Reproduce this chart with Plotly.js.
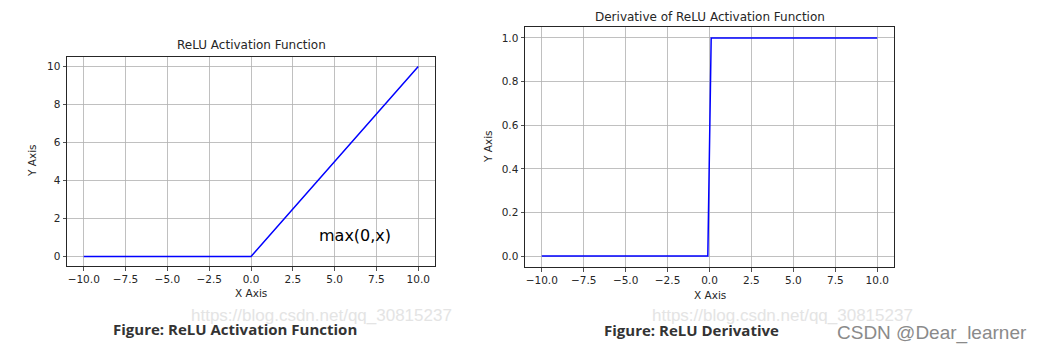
<!DOCTYPE html>
<html><head><meta charset="utf-8">
<script src="https://cdn.plot.ly/plotly-3.0.1.min.js"></script>
<style>html,body{margin:0;padding:0;background:#fff}#plot{width:1041px;height:352px}</style>
</head><body><div id="plot"></div>
<script>
// ReLU data
const reluX = [-10, 0, 10];
const reluY = [0, 0, 10];
// Derivative data
const dReluX = [-10, -0.1, 0.1, 10];
const dReluY = [0, 0, 1, 1];
// Tick labels
const xTicks = [-10, -7.5, -5, -2.5, 0, 2.5, 5, 7.5, 10];
const yTicksLeft = [0, 2, 4, 6, 8, 10];
const yTicksRight = [0, 0.2, 0.4, 0.6, 0.8, 1.0];

const W = 1041, H = 352;
const fx = p => p / W, fy = p => 1 - p / H;
const tickFont = {family: 'DejaVu Sans', size: 10.5, color: '#262626'};
const axBase = {
  showline: true, mirror: true, linecolor: '#262626', linewidth: 1,
  showgrid: true, gridcolor: '#b0b0b0', gridwidth: 0.8,
  ticks: 'outside', ticklen: 3.5, tickcolor: '#262626', tickwidth: 0.8,
  zeroline: false, tickfont: tickFont, fixedrange: true
};
const traces = [
  {x: reluX, y: reluY, mode: 'lines', line: {color: '#0000ff', width: 1.5}, xaxis: 'x', yaxis: 'y', hoverinfo: 'skip'},
  {x: dReluX, y: dReluY, mode: 'lines', line: {color: '#0000ff', width: 1.5}, xaxis: 'x2', yaxis: 'y2', hoverinfo: 'skip'}
];
const titleFont = {family: 'DejaVu Sans', size: 12, color: '#262626'};
const labFont = {family: 'DejaVu Sans', size: 10.5, color: '#262626'};
function note(text, px, py, font, extra) {
  return Object.assign({text: text, x: fx(px), y: fy(py), xref: 'paper', yref: 'paper', xanchor: 'center', yanchor: 'middle', showarrow: false, font: font}, extra || {});
}
const wmFont = {family: 'Liberation Sans Narrow, Liberation Sans', size: 17, color: '#e4e4e4'};
const capFont = {family: 'Open Sans', size: 15, color: '#333'};
const layout = {
  width: W, height: H, margin: {l: 0, r: 0, t: 0, b: 0},
  paper_bgcolor: '#fff', plot_bgcolor: '#fff', showlegend: false,
  xaxis: Object.assign({}, axBase, {domain: [fx(67), fx(435)], range: [-11, 11], tickvals: xTicks, tickformat: '.1f', anchor: 'y'}),
  yaxis: Object.assign({}, axBase, {domain: [fy(266), fy(57)], range: [-0.5, 10.5], tickvals: yTicksLeft, anchor: 'x'}),
  xaxis2: Object.assign({}, axBase, {domain: [fx(525), fx(894)], range: [-11, 11], tickvals: xTicks, tickformat: '.1f', anchor: 'y2'}),
  yaxis2: Object.assign({}, axBase, {domain: [fy(267), fy(27)], range: [-0.05, 1.05], tickvals: yTicksRight, tickformat: '.1f', anchor: 'x2'}),
  annotations: [
    note('https://blog.csdn.net/qq_30815237', 321, 315, wmFont),
    note('https://blog.csdn.net/qq_30815237', 782, 315, wmFont),
    note('ReLU Activation Function', 251, 45, titleFont),
    note('Derivative of ReLU Activation Function', 710, 17, titleFont),
    note('X Axis', 251, 293, labFont),
    note('X Axis', 710, 295, labFont),
    note('Y Axis', 32, 161, labFont, {textangle: -90}),
    note('Y Axis', 488, 147, labFont, {textangle: -90}),
    {text: 'max(0,x)', x: 6.2, y: 1.1, xref: 'x', yref: 'y', xanchor: 'center', yanchor: 'middle', showarrow: false, font: {family: 'DejaVu Sans', size: 16, color: '#000'}},
    note('<b>Figure: ReLU Activation Function</b>', 235, 329, capFont),
    note('<b>Figure: ReLU Derivative</b>', 691, 330, capFont),
    note('CSDN @Dear_learner', 932, 333, {family: 'Liberation Sans Narrow, Liberation Sans', size: 19, color: '#8a8a8a'})
  ]
};
Plotly.newPlot('plot', traces, layout, {displayModeBar: false, staticPlot: true});
</script></body></html>
